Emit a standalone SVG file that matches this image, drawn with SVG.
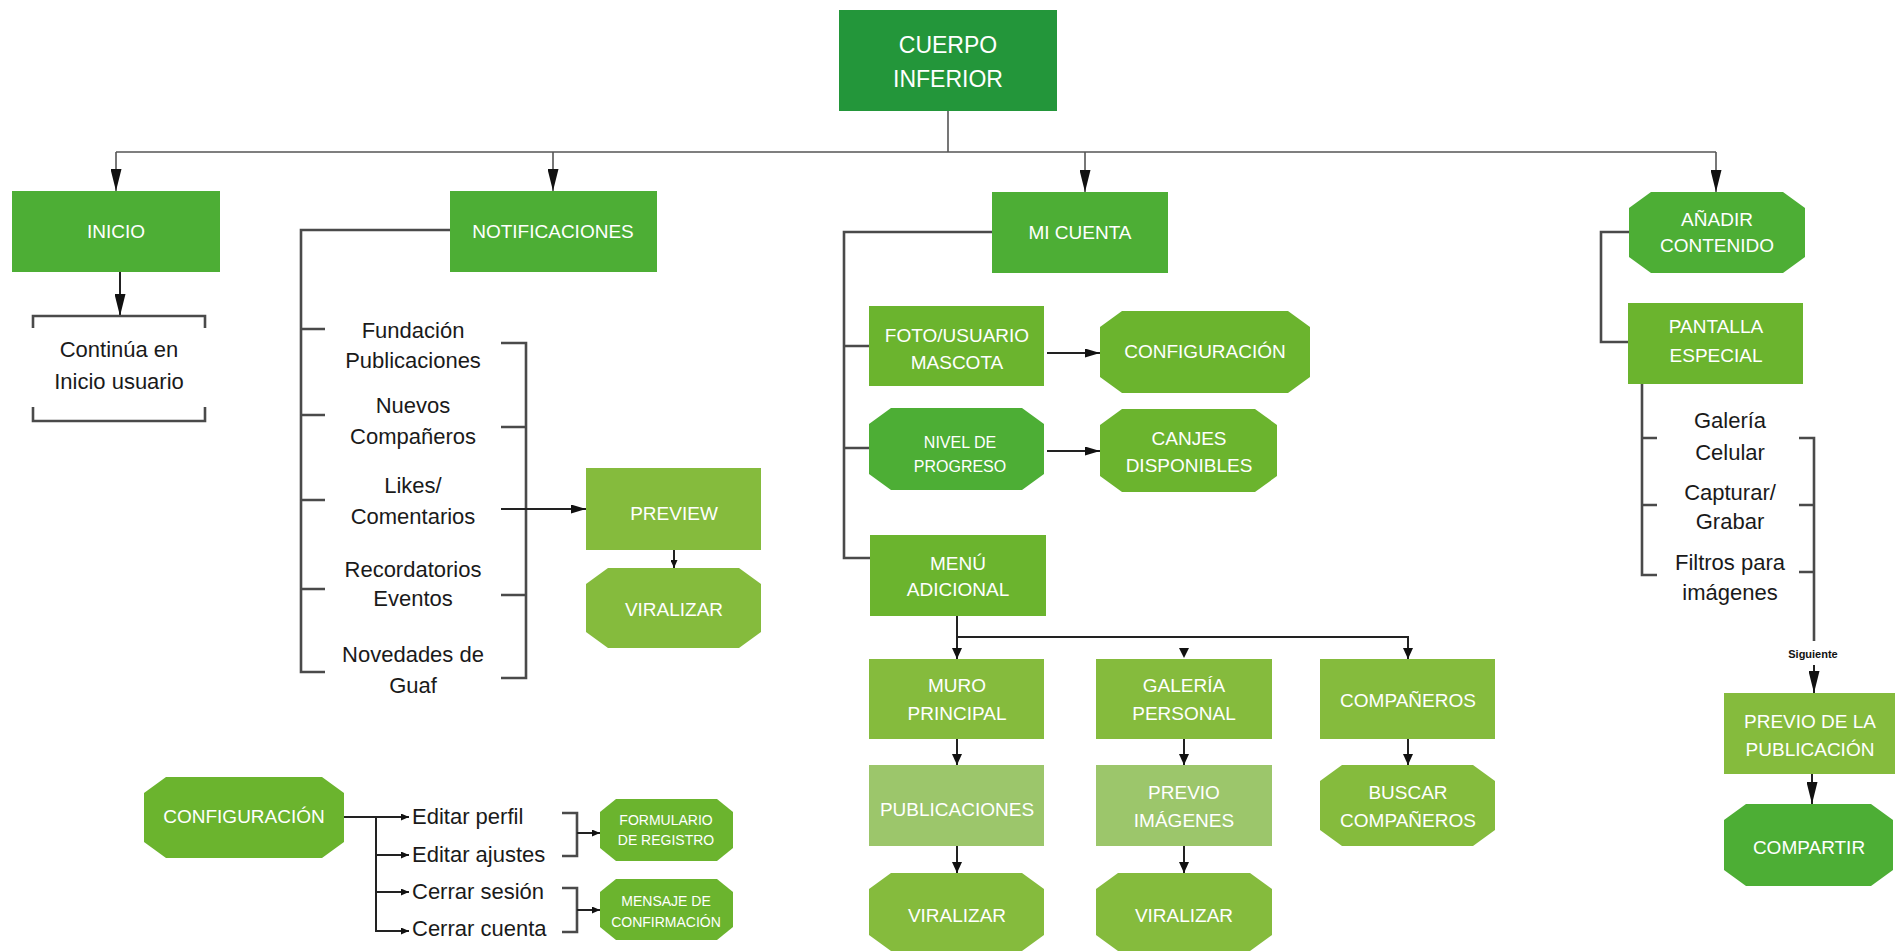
<svg xmlns="http://www.w3.org/2000/svg" width="1895" height="952" viewBox="0 0 1895 952">
<defs>
<style>
.bt{fill:#fff;font-family:"Liberation Sans",Arial,sans-serif;font-size:19px;text-anchor:middle}
.bs{font-size:16px}
.bx{font-size:14px}
.tx{fill:#1a1a1a;font-family:"Liberation Sans",Arial,sans-serif;font-size:22px;text-anchor:middle}
.tl{text-anchor:start}
.c0{fill:#23963a}
.c1{fill:#4dae35}
.c2{fill:#6bb42e}
.c3{fill:#85bb3d}
.c4{fill:#9cc66b}
.gl{stroke:#555;stroke-width:1.6;fill:none}
.ln{stroke:#222;stroke-width:2;fill:none}
.br{stroke:#4a4a4a;stroke-width:2.6;fill:none}
</style>
<marker id="ab" markerUnits="userSpaceOnUse" markerWidth="22" markerHeight="11" refX="22" refY="5.5" orient="auto"><path d="M0,0 L22,5.5 L0,11 z" fill="#111"/></marker>
<marker id="am" markerUnits="userSpaceOnUse" markerWidth="15" markerHeight="9" refX="15" refY="4.5" orient="auto"><path d="M0,0 L15,4.5 L0,9 z" fill="#111"/></marker>
<marker id="as" markerUnits="userSpaceOnUse" markerWidth="11" markerHeight="10" refX="11" refY="5" orient="auto"><path d="M0,0 L11,5 L0,10 z" fill="#111"/></marker>
<marker id="ax" markerUnits="userSpaceOnUse" markerWidth="8" markerHeight="7" refX="8" refY="3.5" orient="auto"><path d="M0,0 L8,3.5 L0,7 z" fill="#111"/></marker>
</defs>

<g id="connectors">
<!-- top tree -->
<path class="gl" d="M948,111 V152 M116,152 H1716"/>
<path class="gl" d="M116,152 V191" marker-end="url(#ab)"/>
<path class="gl" d="M553,152 V191" marker-end="url(#ab)"/>
<path class="gl" d="M1085,152 V192" marker-end="url(#ab)"/>
<path class="gl" d="M1716,152 V192" marker-end="url(#ab)"/>
<!-- inicio -->
<path class="ln" d="M120,272 V316" marker-end="url(#ab)"/>
<path class="br" d="M33,328 V316 H205 V328 M33,407 V421 H205 V407"/>
<!-- notificaciones -->
<path class="br" d="M450,230 H301 V672 H325 M301,329 H325 M301,415 H325 M301,500 H325 M301,589 H325"/>
<path class="br" d="M501,343 H526 V678 H501 M501,427 H526 M501,595 H526"/>
<path class="ln" d="M501,509 H586" marker-end="url(#am)"/>
<path class="ln" d="M674,550 V568" marker-end="url(#ax)"/>
<!-- mi cuenta -->
<path class="br" d="M992,232 H844 V558 H870 M844,346 H869 M844,448 H869"/>
<path class="ln" d="M1047,353 H1100" marker-end="url(#am)"/>
<path class="ln" d="M1047,451 H1100" marker-end="url(#am)"/>
<path class="ln" d="M957,616 V659" marker-end="url(#as)"/>
<path class="ln" d="M957,637 H1408 V659" marker-end="url(#as)"/>
<polygon points="1179,648 1189,648 1184,658" fill="#111"/>
<path class="ln" d="M957,739 V765" marker-end="url(#as)"/>
<path class="ln" d="M957,846 V873" marker-end="url(#as)"/>
<path class="ln" d="M1184,739 V765" marker-end="url(#as)"/>
<path class="ln" d="M1184,846 V873" marker-end="url(#as)"/>
<path class="ln" d="M1408,739 V765" marker-end="url(#as)"/>
<!-- añadir -->
<path class="br" d="M1629,232 H1601 V342 H1628"/>
<path class="br" d="M1642,384 V575 H1657 M1642,438 H1657 M1642,505 H1657"/>
<path class="br" d="M1799,438 H1814 V641 M1799,505 H1814 M1799,572 H1814"/>
<path class="ln" d="M1814,665 V693" marker-end="url(#ab)"/>
<path class="ln" d="M1812,774 V804" marker-end="url(#ab)"/>
<!-- configuracion -->
<path class="ln" d="M344,817 H409" marker-end="url(#ax)"/>
<path class="ln" d="M376,817 V931 H409" marker-end="url(#ax)"/>
<path class="ln" d="M376,855 H409" marker-end="url(#ax)"/>
<path class="ln" d="M376,892 H409" marker-end="url(#ax)"/>
<path class="br" d="M562,813 H577 V856 H562 M562,888 H577 V932 H562"/>
<path class="ln" d="M577,833 H600" marker-end="url(#ax)"/>
<path class="ln" d="M577,910 H600" marker-end="url(#ax)"/>
</g>

<g id="cuerpo-inferior"><rect class="c0" x="839" y="10" width="218" height="101"/><text class="bt" style="font-size:23px" x="948" y="53">CUERPO</text><text class="bt" style="font-size:23px" x="948" y="87">INFERIOR</text></g>

<g id="inicio"><rect class="c1" x="12" y="191" width="208" height="81"/><text class="bt" x="116" y="238">INICIO</text></g>
<g id="inicio-usuario"><text class="tx" x="119" y="357">Continúa en</text><text class="tx" x="119" y="389">Inicio usuario</text></g>

<g id="notificaciones"><rect class="c1" x="450" y="191" width="207" height="81"/><text class="bt" x="553" y="238">NOTIFICACIONES</text></g>
<g id="notif-list">
<text class="tx" x="413" y="338">Fundación</text><text class="tx" x="413" y="368">Publicaciones</text>
<text class="tx" x="413" y="413">Nuevos</text><text class="tx" x="413" y="444">Compañeros</text>
<text class="tx" x="413" y="493">Likes/</text><text class="tx" x="413" y="524">Comentarios</text>
<text class="tx" x="413" y="577">Recordatorios</text><text class="tx" x="413" y="606">Eventos</text>
<text class="tx" x="413" y="662">Novedades de</text><text class="tx" x="413" y="693">Guaf</text>
</g>
<g id="preview"><rect class="c3" x="586" y="468" width="175" height="82"/><text class="bt" x="674" y="520">PREVIEW</text></g>
<g id="viralizar-notif"><polygon class="c3" points="608,568 739,568 761,584 761,632 739,648 608,648 586,632 586,584"/><text class="bt" x="674" y="616">VIRALIZAR</text></g>

<g id="mi-cuenta"><rect class="c1" x="992" y="192" width="176" height="81"/><text class="bt" x="1080" y="239">MI CUENTA</text></g>
<g id="foto-usuario"><rect class="c2" x="869" y="306" width="175" height="80"/><text class="bt" x="957" y="342">FOTO/USUARIO</text><text class="bt" x="957" y="369">MASCOTA</text></g>
<g id="configuracion-cuenta"><polygon class="c2" points="1122,311 1288,311 1310,327 1310,377 1288,393 1122,393 1100,377 1100,327"/><text class="bt" x="1205" y="358">CONFIGURACIÓN</text></g>
<g id="nivel-progreso"><polygon class="c1" points="891,408 1022,408 1044,424 1044,474 1022,490 891,490 869,474 869,424"/><text class="bt bs" x="960" y="448">NIVEL DE</text><text class="bt bs" x="960" y="472">PROGRESO</text></g>
<g id="canjes"><polygon class="c2" points="1122,409 1255,409 1277,425 1277,476 1255,492 1122,492 1100,476 1100,425"/><text class="bt" x="1189" y="445">CANJES</text><text class="bt" x="1189" y="472">DISPONIBLES</text></g>
<g id="menu-adicional"><rect class="c2" x="870" y="535" width="176" height="81"/><text class="bt" x="958" y="570">MENÚ</text><text class="bt" x="958" y="596">ADICIONAL</text></g>

<g id="muro-principal"><rect class="c3" x="869" y="659" width="175" height="80"/><text class="bt" x="957" y="692">MURO</text><text class="bt" x="957" y="720">PRINCIPAL</text></g>
<g id="galeria-personal"><rect class="c3" x="1096" y="659" width="176" height="80"/><text class="bt" x="1184" y="692">GALERÍA</text><text class="bt" x="1184" y="720">PERSONAL</text></g>
<g id="companeros"><rect class="c3" x="1320" y="659" width="175" height="80"/><text class="bt" x="1408" y="707">COMPAÑEROS</text></g>
<g id="publicaciones"><rect class="c4" x="869" y="765" width="175" height="81"/><text class="bt" x="957" y="816">PUBLICACIONES</text></g>
<g id="previo-imagenes"><rect class="c4" x="1096" y="765" width="176" height="81"/><text class="bt" x="1184" y="799">PREVIO</text><text class="bt" x="1184" y="827">IMÁGENES</text></g>
<g id="buscar-companeros"><polygon class="c3" points="1342,765 1473,765 1495,781 1495,830 1473,846 1342,846 1320,830 1320,781"/><text class="bt" x="1408" y="799">BUSCAR</text><text class="bt" x="1408" y="827">COMPAÑEROS</text></g>
<g id="viralizar-muro"><polygon class="c3" points="891,873 1022,873 1044,889 1044,935 1022,951 891,951 869,935 869,889"/><text class="bt" x="957" y="922">VIRALIZAR</text></g>
<g id="viralizar-galeria"><polygon class="c3" points="1118,873 1250,873 1272,889 1272,935 1250,951 1118,951 1096,935 1096,889"/><text class="bt" x="1184" y="922">VIRALIZAR</text></g>

<g id="anadir-contenido"><polygon class="c1" points="1651,192 1783,192 1805,208 1805,257 1783,273 1651,273 1629,257 1629,208"/><text class="bt" x="1717" y="226">AÑADIR</text><text class="bt" x="1717" y="252">CONTENIDO</text></g>
<g id="pantalla-especial"><rect class="c2" x="1628" y="303" width="175" height="81"/><text class="bt" x="1716" y="333">PANTALLA</text><text class="bt" x="1716" y="362">ESPECIAL</text></g>
<g id="pantalla-list">
<text class="tx" x="1730" y="428">Galería</text><text class="tx" x="1730" y="460">Celular</text>
<text class="tx" x="1730" y="500">Capturar/</text><text class="tx" x="1730" y="529">Grabar</text>
<text class="tx" x="1730" y="570">Filtros para</text><text class="tx" x="1730" y="600">imágenes</text>
</g>
<g id="siguiente-label"><text x="1813" y="658" style="font-family:'Liberation Sans',Arial,sans-serif;font-size:11px;font-weight:bold;text-anchor:middle;fill:#111">Siguiente</text></g>
<g id="previo-publicacion"><rect class="c3" x="1724" y="693" width="171" height="81"/><text class="bt" x="1810" y="728">PREVIO DE LA</text><text class="bt" x="1810" y="756">PUBLICACIÓN</text></g>
<g id="compartir"><polygon class="c1" points="1746,804 1871,804 1893,820 1893,870 1871,886 1746,886 1724,870 1724,820"/><text class="bt" x="1809" y="854">COMPARTIR</text></g>

<g id="configuracion"><polygon class="c2" points="166,777 322,777 344,793 344,842 322,858 166,858 144,842 144,793"/><text class="bt" x="244" y="823">CONFIGURACIÓN</text></g>
<g id="config-list">
<text class="tx tl" x="412" y="824">Editar perfil</text>
<text class="tx tl" x="412" y="862">Editar ajustes</text>
<text class="tx tl" x="412" y="899">Cerrar sesión</text>
<text class="tx tl" x="412" y="936">Cerrar cuenta</text>
</g>
<g id="formulario-registro"><polygon class="c2" points="616,799 717,799 733,812 733,848 717,861 616,861 600,848 600,812"/><text class="bt bx" x="666" y="825">FORMULARIO</text><text class="bt bx" x="666" y="845">DE REGISTRO</text></g>
<g id="mensaje-confirmacion"><polygon class="c2" points="616,879 717,879 733,892 733,927 717,940 616,940 600,927 600,892"/><text class="bt bx" x="666" y="906">MENSAJE DE</text><text class="bt bx" x="666" y="927">CONFIRMACIÓN</text></g>
</svg>
